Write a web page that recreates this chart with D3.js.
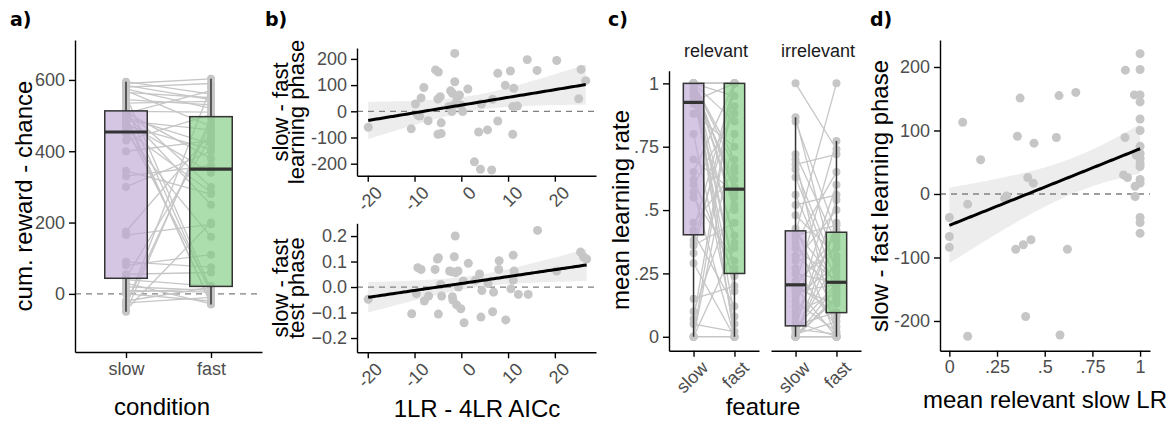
<!DOCTYPE html>
<html>
<head>
<meta charset="utf-8">
<script src="https://cdn.jsdelivr.net/npm/d3@7"></script>
<style>
body { margin: 0; background: #fff; }
text { font-family: "Liberation Sans", Arial, sans-serif; }
</style>
</head>
<body>
<div id="container"></div>
<script>

// ---- panel a : cumulative reward per participant ----
var conditions = ["slow", "fast"];
var rewardSlow = [595, 590, 585, 580, 575, 570, 565, 555, 545, 535, 525, 517, 512, 509, 506, 503, 500, 495, 490, 485, 480, 472, 465, 458, 450, 430, 400, 345, 330, 300, 175, 165, 90, 80, 55, 45, 40, 30, 20, 10, 5, 0, -20, -25, -30, -35, -45, -50];
var rewardFast = [560, 603, 545, 590, 520, 470, 550, 12, 530, 540, 0, 300, 510, 380, 570, 250, -30, 420, -25, 460, 340, 405, 8, 285, 160, 503, 430, 280, 360, 400, 450, 195, 75, 110, 60, 440, 22, -28, 10, 5, 15, -20, 18, -10, 480, 580, 200, 495];
var rewardTicks = [0, 200, 400, 600];

// ---- panel b : model comparison vs. slow - fast ----
var aiccLearn = [-19.9, -10.7, -9.8, -8.6, -8, -9.3, -8.9, -7.1, -5.5, -4.9, -5, -4.5, -4.3, -5, -4.3, -2.7, -2.3, -1.9, -1.4, -1.4, -2, -0.9, -0.4, -0.1, 0.3, 1.4, -1.4, 2.8, 4.1, 4.3, 3.7, 5.6, 6.5, 6.7, 7.8, 7.8, 9.4, 10.5, 11.2, 11, 11, 12, 14.1, 16.2, 20.4, 25.1, 25.6, 26.6];
var diffLearn = [-61, -67, 28, 51, 91, -15, -18, -36, 158, 150, 47, 56, -44, -88, -85, 18, 78, 69, 113, 221, -1, 52, 62, 24, -1, 85, 27, -193, -221, 28, -79, -71, -224, 46, 145, -37, 99, 154, 88, -88, 18, 20, 197, 156, 194, 48, 160, 117];
var aiccTest = [-19.9, -10.6, -9.3, -8.6, -9.6, -7.9, -7, -5.6, -5.1, -4.9, -4.9, -4.4, -4.2, -2.5, -2, -1.5, -1.3, -1.2, -0.7, -1.9, -1.8, -1, -0.1, -0.6, 0.4, 0.6, 1.5, 3, 3.9, 4.4, 4.2, 5.7, 6.7, 6.9, 8, 8.1, 9.5, 10.6, 11.1, 11.3, 11.1, 12.2, 14.3, 16.3, 20.4, 25.5, 26.1, 26.8];
var diffTest = [-0.048, -0.105, 0.076, 0.069, -0.026, -0.055, -0.035, 0.069, 0.11, 0.115, -0.106, 0.01, -0.035, 0.063, 0.06, 0.119, 0.2, 0.056, 0.063, -0.038, -0.051, -0.07, -0.085, 0, 0.024, -0.14, 0.093, 0.027, 0.051, -0.014, -0.118, 0.014, -0.097, -0.02, 0.069, 0.103, -0.129, -0.007, 0.125, 0.063, 0.027, -0.029, -0.029, 0.222, 0.063, 0.137, 0.119, 0.11];
var aiccTicks = [-20, -10, 0, 10, 20];
var learnTicks = [-200, -100, 0, 100, 200];
var testTicks = [-0.2, -0.1, 0, 0.1, 0.2];

// ---- panel c : mean learning rate per feature ----
var features = ["relevant", "irrelevant"];
var lrRelSlow = [0, 0, 0, 0, 0.05, 0.07, 0.1, 0.15, 0.29, 0.33, 0.36, 0.38, 0.41, 0.42, 0.45, 0.55, 0.57, 0.6, 0.62, 0.65, 0.7, 0.8, 0.88, 0.92, 0.93, 0.95, 0.97, 0.98, 1, 1, 1, 1, 1, 1, 1, 1, 1, 1, 1, 1, 1, 1, 1, 1, 1, 1, 1, 1];
var lrRelFast = [0, 0.8, 1, 0.35, 0.02, 1, 0.55, 0.2, 0, 1, 0.45, 0.91, 0.12, 1, 0.65, 0.3, 0, 0.88, 0.24, 1, 0.57, 0.05, 0.75, 0.4, 1, 0.18, 0.62, 0.253, 1, 0, 0.7, 1, 0.08, 0.59, 1, 0.37, 0.85, 0.5, 1, 0.27, 0.95, 0, 1, 0.67, 0.575, 1, 0.52, 1];
var lrIrrSlow = [0, 0, 0, 0, 0, 0, 0, 0.01, 0.02, 0.03, 0.035, 0.037, 0.045, 0.06, 0.08, 0.1, 0.12, 0.14, 0.16, 0.18, 0.19, 0.195, 0.2, 0.203, 0.207, 0.22, 0.25, 0.27, 0.3, 0.32, 0.35, 0.37, 0.39, 0.4, 0.41, 0.415, 0.427, 0.48, 0.52, 0.56, 0.63, 0.66, 0.68, 0.7, 0.72, 0.85, 0.866, 1];
var lrIrrFast = [0.45, 0, 0.2, 0.15, 0.16, 0, 0.38, 0.06, 0.3, 0.01, 0.21, 0.54, 0.097, 0, 0.42, 0.17, 0.6, 0.02, 0.28, 0.205, 0.13, 0, 0.4, 0.773, 0.09, 0.35, 0.212, 0.04, 0.5, 0.19, 0.22, 0.65, 0, 0.44, 1, 0.214, 0.08, 0.32, 0.56, 0.18, 0.216, 0.26, 0.72, 0, 0.37, 0.41, 0.24, 0.74];
var lrTicks = [0, 0.25, 0.5, 0.75, 1];
var lrTickLabels = ["0", ".25", ".5", ".75", "1"];

// ---- panel d : relevant slow LR vs. slow - fast ----
var relSlowLR = [0, 0, 0, 0.07, 0.096, 0.096, 0.164, 0.29, 0.30, 0.348, 0.357, 0.371, 0.388, 0.4, 0.411, 0.428, 0.44, 0.444, 0.561, 0.575, 0.58, 0.619, 0.663, 0.913, 0.921, 0.923, 0.934, 0.97, 0.974, 0.974, 0.98, 1, 1, 1, 1, 1, 1, 1, 1, 1, 1, 1, 1, 1, 1, 1, 1];
var diffLearnD = [-37, -67, -84, 113, -16, -224, 54, -7, -3, -87, 91, 151, -80, -193, 26, -72, 17, 80, 89, 155, -222, -87, 160, 30, 89, 195, 26, 156, 12, -4, 61, 221, 196, 156, 145, 118, 100, 75, 64, 56, 48, 43, 23, 17, -37, -45, -62];

var colSlow = "#bfa9d6", colFast = "#7fcb7f";
var ptCol = "#c6c6c6";
var tickFont = 18, titleFont = 24;

var svg = d3.select("#container").append("svg")
	.attr("width", 1175).attr("height", 424);

function styleAxis(ax) {
	ax.attr("font-family", null).attr("font-size", null);
	ax.select(".domain").attr("stroke", "#000").attr("stroke-width", 1.4);
	ax.selectAll(".tick line").attr("stroke", "#000").attr("stroke-width", 1.4);
	ax.selectAll(".tick text").attr("fill", "#4d4d4d").attr("font-size", tickFont);
}

function yAxis(scale, x, ticks, labels) {
	var ax = svg.append("g").attr("transform", "translate(" + x + ",0)")
		.call(d3.axisLeft(scale).tickValues(ticks).tickSize(6).tickPadding(4).tickSizeOuter(0)
			.tickFormat((d, i) => labels ? labels[i] : d));
	styleAxis(ax);
	return ax;
}

function xAxis(scale, y, ticks, labels, rotate) {
	var ax = svg.append("g").attr("transform", "translate(0," + y + ")")
		.call(d3.axisBottom(scale).tickSize(6).tickPadding(4).tickSizeOuter(0)
			.tickValues(ticks).tickFormat((d, i) => labels ? labels[i] : d));
	styleAxis(ax);
	if (rotate) {
		ax.selectAll(".tick text")
			.attr("x", 0).attr("y", 0).attr("dy", "0.72em")
			.attr("text-anchor", "end")
			.attr("transform", "translate(6,9) rotate(-45)");
	}
	return ax;
}

function title(x, y, str, rot, size) {
	var t = svg.append("text").attr("font-size", size || titleFont).attr("fill", "#000")
		.attr("text-anchor", "middle").text(str);
	if (rot) t.attr("transform", "translate(" + x + "," + y + ") rotate(-90)");
	else t.attr("x", x).attr("y", y);
	return t;
}

function letter(x, y, str) {
	svg.append("text").attr("x", x).attr("y", y).attr("font-size", 19)
		.attr("font-weight", "bold").style("font-family", "DejaVu Sans").text(str);
}

function zeroLine(x0, x1, y) {
	svg.append("line").attr("x1", x0).attr("x2", x1).attr("y1", y).attr("y2", y)
		.attr("stroke", "#7f7f7f").attr("stroke-width", 1.3).attr("stroke-dasharray", "6,5");
}

function boxStats(v) {
	var s = v.slice().sort(d3.ascending);
	var q1 = d3.quantile(s, 0.25), med = d3.quantile(s, 0.5), q3 = d3.quantile(s, 0.75);
	var iqr = q3 - q1;
	var lo = d3.min(s.filter(d => d >= q1 - 1.5 * iqr));
	var hi = d3.max(s.filter(d => d <= q3 + 1.5 * iqr));
	return {q1: q1, med: med, q3: q3, lo: lo, hi: hi};
}

// paired slow/fast plot with boxes on top
function pairedPanel(x, y, slow, fast, r) {
	var g = svg.append("g");
	var xs = x(conditions[0]), xf = x(conditions[1]);
	g.selectAll(".pair").data(slow).enter().append("line")
		.attr("x1", xs).attr("x2", xf)
		.attr("y1", d => y(d)).attr("y2", (d, i) => y(fast[i]))
		.attr("stroke", ptCol).attr("stroke-width", 1.3);
	[slow, fast].forEach((vals, k) => {
		g.selectAll(".pt" + k).data(vals).enter().append("circle")
			.attr("cx", x(conditions[k])).attr("cy", d => y(d)).attr("r", r)
			.attr("fill", ptCol);
	});
	var bw = x.step() * 0.5;
	[slow, fast].forEach((vals, k) => {
		var st = boxStats(vals), cx = x(conditions[k]);
		g.append("line").attr("x1", cx).attr("x2", cx).attr("y1", y(st.hi)).attr("y2", y(st.q3))
			.attr("stroke", "#333").attr("stroke-width", 1.5);
		g.append("line").attr("x1", cx).attr("x2", cx).attr("y1", y(st.q1)).attr("y2", y(st.lo))
			.attr("stroke", "#333").attr("stroke-width", 1.5);
		g.append("rect").attr("x", cx - bw / 2).attr("width", bw)
			.attr("y", y(st.q3)).attr("height", y(st.q1) - y(st.q3))
			.attr("fill", k === 0 ? colSlow : colFast).attr("fill-opacity", 0.65)
			.attr("stroke", "#333").attr("stroke-width", 1.5);
		g.append("line").attr("x1", cx - bw / 2).attr("x2", cx + bw / 2)
			.attr("y1", y(st.med)).attr("y2", y(st.med))
			.attr("stroke", "#333").attr("stroke-width", 3.2);
	});
}

// linear fit with 95% band
function lmFit(xv, yv) {
	var n = xv.length, mx = d3.mean(xv), my = d3.mean(yv);
	var sxx = d3.sum(xv, d => (d - mx) * (d - mx));
	var sxy = d3.sum(xv, (d, i) => (d - mx) * (yv[i] - my));
	var b = sxy / sxx, a = my - b * mx;
	var sse = d3.sum(xv, (d, i) => Math.pow(yv[i] - a - b * d, 2));
	var s = Math.sqrt(sse / (n - 2));
	var t = 2.013;
	var ext = d3.extent(xv);
	var grid = d3.range(0, 81).map(i => ext[0] + (ext[1] - ext[0]) * i / 80);
	return grid.map(xx => {
		var fit = a + b * xx;
		var se = s * Math.sqrt(1 / n + (xx - mx) * (xx - mx) / sxx);
		return {x: xx, y: fit, lo: fit - t * se, hi: fit + t * se};
	});
}

function scatterPanel(x, y, xv, yv, r) {
	var fit = lmFit(xv, yv);
	svg.append("path").datum(fit)
		.attr("d", d3.area().x(d => x(d.x)).y0(d => y(d.lo)).y1(d => y(d.hi)))
		.attr("fill", "#999").attr("fill-opacity", 0.18);
	svg.append("g").selectAll("circle").data(xv).enter().append("circle")
		.attr("cx", d => x(d)).attr("cy", (d, i) => y(yv[i])).attr("r", r)
		.attr("fill", ptCol);
	svg.append("path").datum(fit)
		.attr("d", d3.line().x(d => x(d.x)).y(d => y(d.y)))
		.attr("fill", "none").attr("stroke", "#000").attr("stroke-width", 3);
}

// ================= panel a =================
var xA = d3.scalePoint().domain(conditions).range([75, 262]).padding(0.6);
var yA = d3.scaleLinear().domain([-163, 712]).range([352, 40]);
zeroLine(75, 262, yA(0));
pairedPanel(xA, yA, rewardSlow, rewardFast, 4);
yAxis(yA, 75, rewardTicks);
xAxis(xA, 352, conditions);
title(32, 196, "cum. reward - chance", true);
title(162, 415, "condition");
letter(10, 26, "a)");

// ================= panel b =================
var xB = d3.scaleLinear().domain([-22.3, 28.8]).range([357, 596]);
var yB1 = d3.scaleLinear().domain([-245.8, 241.6]).range([175.7, 48]);
var yB2 = d3.scaleLinear().domain([-0.256, 0.25]).range([352.3, 223.3]);
zeroLine(357, 596, yB1(0));
zeroLine(357, 596, yB2(0));
scatterPanel(xB, yB1, aiccLearn, diffLearn, 4.5);
scatterPanel(xB, yB2, aiccTest, diffTest, 4.5);
yAxis(yB1, 357, learnTicks);
yAxis(yB2, 357, testTicks, testTicks.map(d => d3.format(".1f")(d)));
xAxis(xB, 175.7, aiccTicks, null, true);
xAxis(xB, 352.3, aiccTicks, null, true);
title(288, 112, "slow - fast", true, 22);
title(304, 112, "learning phase", true, 22);
title(288, 288, "slow - fast", true, 22);
title(304, 288, "test phase", true, 22);
title(477, 417, "1LR - 4LR AICc");
letter(265, 26, "b)");

// ================= panel c =================
var yC = d3.scaleLinear().domain([-0.055, 1.05]).range([350.7, 70.7]);
var facetX = [[669, 759], [771, 861]];
var lrData = [[lrRelSlow, lrRelFast], [lrIrrSlow, lrIrrFast]];
features.forEach((f, k) => {
	var xC = d3.scalePoint().domain(conditions).range(facetX[k]).padding(0.6);
	pairedPanel(xC, yC, lrData[k][0], lrData[k][1], 4);
	xAxis(xC, 350.7, conditions, null, true);
	svg.append("text").attr("x", (facetX[k][0] + facetX[k][1]) / 2 + 2).attr("y", 57)
		.attr("text-anchor", "middle").attr("font-size", tickFont).attr("fill", "#1a1a1a").text(f);
});
yAxis(yC, 669, lrTicks, lrTickLabels);
title(629, 210, "mean learning rate", true);
title(763, 415, "feature");
letter(608, 26, "c)");

// ================= panel d =================
var xD = d3.scaleLinear().domain([-0.049, 1.052]).range([940, 1150]);
var yD = d3.scaleLinear().domain([-246.8, 242.5]).range([350.7, 40]);
zeroLine(940, 1150, yD(0));
scatterPanel(xD, yD, relSlowLR, diffLearnD, 4.5);
yAxis(yD, 940, learnTicks);
xAxis(xD, 350.7, lrTicks, lrTickLabels);
title(888, 196, "slow - fast learning phase", true);
title(1045, 408, "mean relevant slow LR");
letter(870, 26, "d)");

</script>
</body>
</html>
